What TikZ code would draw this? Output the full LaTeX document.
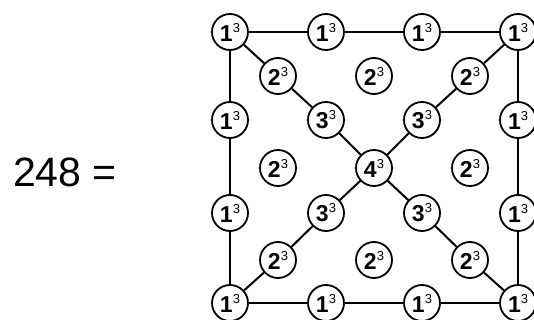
\documentclass[tikz,border=0pt]{standalone}
\usepackage{fontspec}
\setmainfont{Liberation Sans}
\usetikzlibrary{positioning}

% bold base with a small raised 3
\newcommand{\cubed}[1]{{\bfseries #1}\raisebox{9pt}{\fontsize{13}{13}\selectfont 3}}

\begin{document}
\begin{tikzpicture}[x=1pt, y=-1pt,
    ball/.style={circle, draw, line width=1.8pt, fill=white,
        minimum size=36pt, inner sep=0pt,
        font=\fontsize{23}{23}\selectfont},
    link/.style={line width=2pt}]
    \useasboundingbox (0,0) rectangle (534,320);

    \node[font=\fontsize{41}{41}\selectfont] (total) at (65,172) {248 =};

    % outer ring of ones
    \node[ball] (n00) at (230,32)  {\cubed{1}};
    \node[ball] (n20) at (326,32)  {\cubed{1}};
    \node[ball] (n40) at (422,32)  {\cubed{1}};
    \node[ball] (n60) at (518,32)  {\cubed{1}};
    \node[ball] (n02) at (230,120) {\cubed{1}};
    \node[ball] (n62) at (518,120) {\cubed{1}};
    \node[ball] (n04) at (230,213) {\cubed{1}};
    \node[ball] (n64) at (518,213) {\cubed{1}};
    \node[ball] (n06) at (230,303) {\cubed{1}};
    \node[ball] (n26) at (326,303) {\cubed{1}};
    \node[ball] (n46) at (422,303) {\cubed{1}};
    \node[ball] (n66) at (518,303) {\cubed{1}};

    % twos
    \node[ball] (n11) at (278,76)  {\cubed{2}};
    \node[ball] (n31) at (374,76)  {\cubed{2}};
    \node[ball] (n51) at (470,76)  {\cubed{2}};
    \node[ball] (n13) at (278,168) {\cubed{2}};
    \node[ball] (n53) at (470,168) {\cubed{2}};
    \node[ball] (n15) at (278,260) {\cubed{2}};
    \node[ball] (n35) at (374,260) {\cubed{2}};
    \node[ball] (n55) at (470,260) {\cubed{2}};

    % threes and the centre
    \node[ball] (n22) at (326,120) {\cubed{3}};
    \node[ball] (n42) at (422,120) {\cubed{3}};
    \node[ball] (n24) at (326,213) {\cubed{3}};
    \node[ball] (n44) at (422,213) {\cubed{3}};
    \node[ball] (n33) at (374,168) {\cubed{4}};

    \draw[link] (n00) -- (n20) -- (n40) -- (n60) -- (n62) -- (n64) -- (n66)
        -- (n46) -- (n26) -- (n06) -- (n04) -- (n02) -- (n00);
    \draw[link] (n00) -- (n11) -- (n22) -- (n33) -- (n44) -- (n55) -- (n66);
    \draw[link] (n60) -- (n51) -- (n42) -- (n33) -- (n24) -- (n15) -- (n06);
\end{tikzpicture}
\end{document}
